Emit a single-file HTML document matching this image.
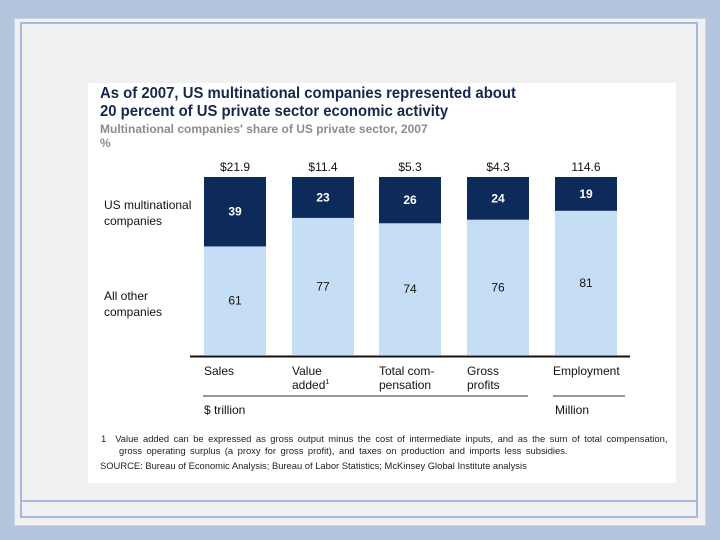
<!DOCTYPE html>
<html><head><meta charset="utf-8"><style>
body{margin:0;width:720px;height:540px;background:#b3c5dc;position:relative;overflow:hidden;font-family:"Liberation Sans",sans-serif}
#panel{position:absolute;left:14px;top:18px;width:690px;height:506px;background:#f1f1f1;border:1px solid #c9d3e6}
#frame{position:absolute;left:20px;top:22px;width:678px;height:496px;border:2px solid #a9b9d9;box-sizing:border-box}
#hl1{position:absolute;left:20px;top:500px;width:678px;height:2px;background:#a9b9d9}
#card{position:absolute;left:88px;top:83px;width:588px;height:400px;background:#fff}
.t{position:absolute;white-space:nowrap}
</style></head><body>
<div id="panel"></div>
<div id="frame"></div>
<div id="hl1"></div>
<div id="card"></div>
<div class="t" style="left:100px;top:85px;font-size:15.5px;font-weight:bold;color:#14284d;line-height:18px;transform:scaleX(0.96);transform-origin:0 0">As of 2007, US multinational companies represented about<br>20 percent of US private sector economic activity</div>
<div class="t" style="left:100px;top:122px;font-size:12px;font-weight:bold;color:#8c8c8c;line-height:14px">Multinational companies' share of US private sector, 2007<br>%</div>
<div class="t" style="left:104px;top:197px;font-size:12px;color:#111;line-height:16px">US multinational<br>companies</div>
<div class="t" style="left:104px;top:288px;font-size:12px;color:#111;line-height:16px">All other<br>companies</div>
<svg id="chart" width="720" height="540" style="position:absolute;left:0;top:0"></svg>
<div class="t" style="left:204px;top:403px;font-size:12px;color:#111">$ trillion</div>
<div class="t" style="left:555px;top:403px;font-size:12px;color:#111">Million</div>
<div class="t" style="left:101px;top:433px;font-size:9.4px;color:#222;line-height:12px;word-spacing:1.9px">1&nbsp; Value added can be expressed as gross output minus the cost of intermediate inputs, and as the sum of total compensation,<br>&nbsp;&nbsp;&nbsp; gross operating surplus (a proxy for gross profit), and taxes on production and imports less subsidies.</div>
<div class="t" style="left:100px;top:460px;font-size:9.4px;color:#222">SOURCE: Bureau of Economic Analysis; Bureau of Labor Statistics; McKinsey Global Institute analysis</div>
<script>
const categories=["Sales","Value added","Total compensation","Gross profits","Employment"];
const multinational=[39,23,26,24,19];
const others=[61,77,74,76,81];
const totals=["$21.9","$11.4","$5.3","$4.3","114.6"];
const catLines=[["Sales"],["Value","added"],["Total com-","pensation"],["Gross","profits"],["Employment"]];
const svg=document.getElementById('chart');
const NS='http://www.w3.org/2000/svg';
const x0=[204,292,379,467,555],bw=62,yb=355,H=178;
const y=v=>yb-v/100*H;
function mk(t,a){const e=document.createElementNS(NS,t);for(const k in a)e.setAttribute(k,a[k]);svg.appendChild(e);return e;}
categories.forEach((c,i)=>{
 const tot=others[i]+multinational[i];
 const lo=mk('rect',{x:x0[i],y:y(others[i]),width:bw,height:yb-y(others[i]),fill:'#c6ddf6'});
 
 
 const hi=mk('rect',{x:x0[i],y:y(tot),width:bw,height:y(others[i])-y(tot),fill:'#0c2a5a'});
 
 
 const cx=x0[i]+bw/2;
 const t1=mk('text',{x:cx,y:(y(tot)+y(others[i]))/2+4,'text-anchor':'middle','font-size':12,'font-weight':'bold',fill:'#fff','font-family':'Liberation Sans'});t1.textContent=multinational[i];
 
 
 const t2=mk('text',{x:cx,y:(y(others[i])+yb)/2+4,'text-anchor':'middle','font-size':12,fill:'#111','font-family':'Liberation Sans'});t2.textContent=others[i];
 
 
 const t3=mk('text',{x:cx,y:y(tot)-6,'text-anchor':'middle','font-size':12,fill:'#111','font-family':'Liberation Sans'});t3.textContent=totals[i];
 
 
 catLines[i].forEach((l,j)=>{
  const t=mk('text',{x:x0[i]+(i==4?-2:0),y:375+j*14,'font-size':12,fill:'#111','font-family':'Liberation Sans'});t.textContent=l;
  if(i==1&&j==1){const s=document.createElementNS(NS,'tspan');s.setAttribute('font-size',7);s.setAttribute('dy',-5);s.textContent='1';t.appendChild(s);}
  
  
 });
});
const ax=mk('line',{x1:190,x2:630,y1:356.5,y2:356.5,stroke:'#111','stroke-width':2});


const g1=mk('line',{x1:203,x2:528,y1:396,y2:396,stroke:'#333','stroke-width':1});


const g2=mk('line',{x1:553,x2:625,y1:396,y2:396,stroke:'#333','stroke-width':1});


</script>
</body></html>
